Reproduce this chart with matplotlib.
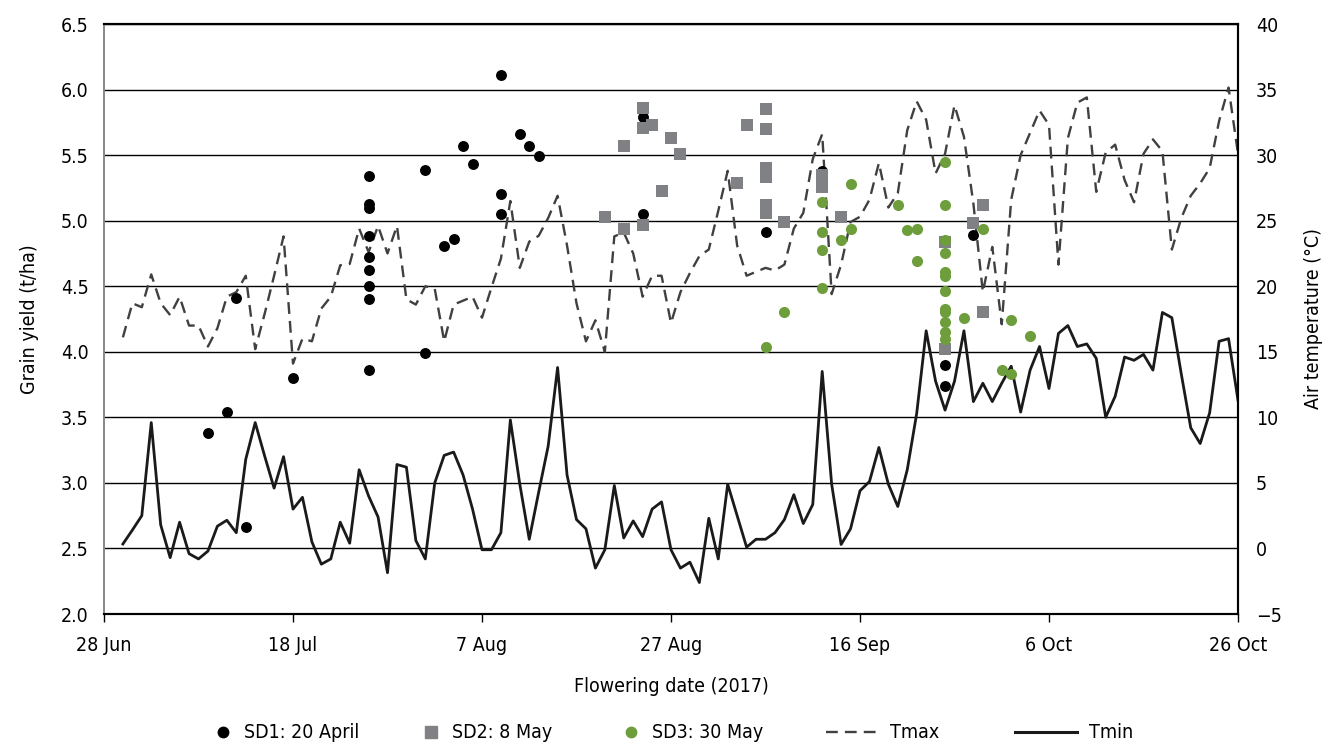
import matplotlib
matplotlib.use('Agg')
import matplotlib.pyplot as plt
import matplotlib.dates as mdates
from matplotlib.lines import Line2D
import pandas as pd

plt.rcParams['font.family'] = ['DejaVu Sans']
plt.rcParams['font.stretch'] = 'condensed'

# daily air temperature, 30 Jun .. 26 Oct 2017
temp_dates = pd.date_range('2017-06-30', '2017-10-26', freq='D')
tmax = [16.1, 18.7, 18.4, 20.9, 18.7, 17.8, 19.2, 17.0, 17.0, 15.4,
        16.8, 19.2, 19.55, 20.8, 15.2, 17.9, 20.8, 23.8, 14.1, 16.0,
        15.8, 18.3, 19.2, 21.6, 21.7, 24.4, 22.6, 24.6, 22.5, 24.6,
        19.0, 18.6, 20.0, 19.8, 15.8, 18.6, 18.9, 19.2, 17.6, 19.9,
        22.1, 26.5, 21.4, 23.4, 23.85, 25.2, 26.9, 23.1, 18.7, 15.8,
        17.4, 15.0, 23.8, 24.1, 22.5, 19.2, 20.8, 20.8, 17.2, 19.55,
        21.0, 22.3, 22.8, 25.75, 28.8, 23.1, 20.8, 21.1, 21.4, 21.2,
        21.65, 24.4, 25.6, 29.7, 31.6, 19.4, 21.65, 24.9, 25.3, 26.6,
        29.4, 26.0, 27.1, 31.9, 34.1, 32.7, 28.6, 30.1, 33.8, 31.4,
        26.3, 19.55, 23.0, 17.1, 26.6, 30.0, 31.7, 33.4, 32.3, 21.65,
        31.3, 34.0, 34.4, 27.2, 30.2, 30.8, 28.1, 26.4, 30.1, 31.2,
        30.3, 22.8, 25.2, 26.9, 27.85, 29.0, 32.6, 35.15, 30.1]
tmin = [0.34, 1.4, 2.5, 9.6, 1.8, -0.7, 2.0, -0.4, -0.8, -0.2,
        1.7, 2.15, 1.2, 6.8, 9.6, 7.05, 4.6, 7.0, 3.0, 3.9,
        0.5, -1.2, -0.8, 2.0, 0.4, 6.0, 4.0, 2.4, -1.85, 6.4,
        6.2, 0.6, -0.8, 5.0, 7.1, 7.35, 5.6, 3.0, -0.1, -0.1,
        1.2, 9.8, 4.9, 0.7, 4.3, 7.8, 13.8, 5.6, 2.2, 1.5,
        -1.5, -0.1, 4.8, 0.8, 2.1, 0.9, 3.0, 3.55, -0.1, -1.5,
        -1.05, -2.6, 2.3, -0.8, 4.9, 2.5, 0.1, 0.7, 0.7, 1.2,
        2.2, 4.1, 1.9, 3.35, 13.5, 4.9, 0.3, 1.5, 4.4, 5.1,
        7.7, 4.9, 3.2, 6.0, 10.3, 16.6, 12.75, 10.55, 12.75, 16.6,
        11.2, 12.6, 11.2, 12.6, 13.9, 10.4, 13.6, 15.4, 12.2, 16.4,
        17.0, 15.4, 15.6, 14.5, 10.0, 11.6, 14.6, 14.35, 14.8, 13.6,
        18.0, 17.6, 13.3, 9.2, 8.0, 10.35, 15.8, 16.0, 11.3]

# grain yield by flowering date, per sowing date
sd1_dates = ['07-09', '07-11', '07-12', '07-13', '07-18',
             '07-26', '07-26', '07-26', '07-26', '07-26', '07-26', '07-26', '07-26', '07-26',
             '08-01', '08-01', '08-03', '08-04', '08-05', '08-06',
             '08-09', '08-09', '08-09', '08-11', '08-12', '08-13',
             '08-24', '08-24', '09-06', '09-12', '09-25', '09-25', '09-28']
sd1_yield = [3.38, 3.54, 4.41, 2.66, 3.80,
             5.34, 5.13, 5.10, 4.88, 4.72, 4.62, 4.50, 4.40, 3.86,
             5.39, 3.99, 4.81, 4.86, 5.57, 5.43,
             6.11, 5.20, 5.05, 5.66, 5.57, 5.49,
             5.79, 5.05, 4.91, 5.38, 3.90, 3.74, 4.89]

sd2_dates = ['08-20', '08-22', '08-22', '08-24', '08-24', '08-24', '08-25', '08-26',
             '08-27', '08-28', '09-03', '09-04',
             '09-06', '09-06', '09-06', '09-06', '09-06', '09-06',
             '09-08', '09-12', '09-12', '09-14', '09-25', '09-25',
             '09-28', '09-29', '09-29']
sd2_yield = [5.03, 5.57, 4.94, 5.86, 5.71, 4.97, 5.73, 5.23,
             5.63, 5.51, 5.29, 5.73,
             5.85, 5.70, 5.40, 5.33, 5.12, 5.06,
             4.99, 5.35, 5.26, 5.03, 4.84, 4.02,
             4.98, 5.12, 4.30]

sd3_dates = ['09-06', '09-08', '09-12', '09-12', '09-12', '09-12', '09-14',
             '09-15', '09-15', '09-20', '09-21', '09-22', '09-22',
             '09-25', '09-25', '09-25', '09-25', '09-25', '09-25',
             '09-25', '09-25', '09-25', '09-25', '09-25', '09-25',
             '09-27', '09-29', '10-01', '10-02', '10-02', '10-04']
sd3_yield = [4.04, 4.30, 5.14, 4.91, 4.78, 4.49, 4.85,
             5.28, 4.94, 5.12, 4.93, 4.94, 4.69,
             5.45, 5.12, 4.85, 4.75, 4.61, 4.58,
             4.46, 4.33, 4.30, 4.23, 4.15, 4.10,
             4.26, 4.94, 3.86, 4.24, 3.83, 4.12]

yield_ticks = [2.0, 2.5, 3.0, 3.5, 4.0, 4.5, 5.0, 5.5, 6.0, 6.5]
temp_ticks = [-5, 0, 5, 10, 15, 20, 25, 30, 35, 40]
date_ticks = pd.date_range('2017-06-28', '2017-10-26', freq='20D')

c_sd1, c_sd2, c_sd3 = 'black', '#808184', '#6e9e3c'
c_tmax, c_tmin = '#404040', '#1a1a1a'
fs = 14


def to_dates(md):
    return pd.to_datetime(['2017-' + s for s in md])


fig = plt.figure(figsize=(13.31, 7.44), dpi=100)
ax = fig.add_axes([104/1331, 130/744, 1134/1331, 590/744])
ax2 = ax.twinx()
ax.set_zorder(2)
ax.patch.set_visible(False)
ax2.set_zorder(1)

# temperature lines and grid on the right axis
for t in temp_ticks:
    ax2.axhline(t, color='black', lw=1.0, zorder=0)
ax2.plot(temp_dates, tmax, color=c_tmax, lw=1.7, ls=(0, (5, 3)), zorder=2)
ax2.plot(temp_dates, tmin, color=c_tmin, lw=2.0, zorder=2)
ax2.set_ylim(-5, 40)
ax2.set_yticks(temp_ticks)
ax2.set_yticklabels([str(t).replace('-', '\u2212') for t in temp_ticks])
ax2.tick_params(axis='y', length=0, pad=13, labelsize=fs)
ax2.set_ylabel('Air temperature (°C)', fontsize=fs, labelpad=16)

# yield points on the left axis
ax.scatter(to_dates(sd1_dates), sd1_yield, s=62, marker='o', color=c_sd1,
           linewidths=0, zorder=3)
ax.scatter(to_dates(sd2_dates), sd2_yield, s=75, marker='s', color=c_sd2,
           linewidths=0, zorder=4)
ax.scatter(to_dates(sd3_dates), sd3_yield, s=64, marker='o', color=c_sd3,
           linewidths=0, zorder=5)
ax.set_ylim(2.0, 6.5)
ax.set_yticks(yield_ticks)
ax.set_yticklabels(['%.1f' % v for v in yield_ticks])
ax.tick_params(axis='y', length=0, pad=11, labelsize=fs)
ax.set_ylabel('Grain yield (t/ha)', fontsize=fs, labelpad=16)

ax.set_xlim(pd.Timestamp('2017-06-28'), pd.Timestamp('2017-10-26'))
ax.set_xticks(date_ticks)
ax.xaxis.set_major_formatter(mdates.DateFormatter('%-d %b'))
ax.tick_params(axis='x', length=6, width=1, direction='out', pad=10, labelsize=fs)
ax.set_xlabel('Flowering date (2017)', fontsize=fs, labelpad=16)

for a in (ax, ax2):
    a.spines['left'].set_color('#888888')
    a.spines['left'].set_linewidth(1.2)
    for side in ('right', 'bottom', 'top'):
        a.spines[side].set_color('black')
        a.spines[side].set_linewidth(1.5)

# legend entries spread along the bottom
entries = [
    (Line2D([], [], marker='o', ls='none', color=c_sd1, markersize=7.5), 'SD1: 20 April', 213, 1.0),
    (Line2D([], [], marker='s', ls='none', color=c_sd2, markersize=8), 'SD2: 8 May', 421, 1.0),
    (Line2D([], [], marker='o', ls='none', color=c_sd3, markersize=7.5), 'SD3: 30 May', 621, 1.0),
    (Line2D([], [], color=c_tmax, lw=1.7, ls=(0, (5, 3))), 'Tmax', 826, 2.7),
    (Line2D([], [], color=c_tmin, lw=2.2), 'Tmin', 1015, 3.2),
]
for h, lab, x0, hl in entries:
    fig.legend([h], [lab], loc='center left', bbox_to_anchor=(x0/1331, 1 - 733/744),
               frameon=False, fontsize=fs, handlelength=hl, handletextpad=0.6,
               borderpad=0, borderaxespad=0)

fig.savefig('out.png', dpi=100)
